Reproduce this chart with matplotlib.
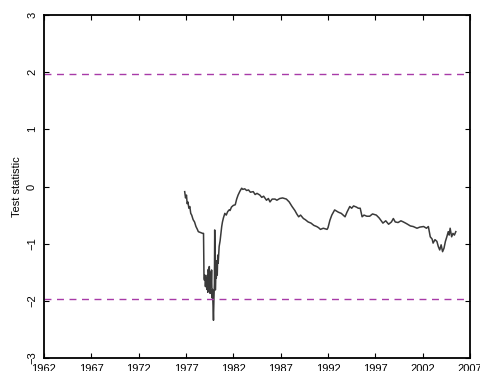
import matplotlib
matplotlib.use("Agg")
import matplotlib.pyplot as plt

# Test statistic series (year, value)
years = [1976.86, 1976.95, 1977.05, 1977.12, 1977.2, 1977.3, 1977.4, 1977.5, 1977.6, 1977.75,
         1977.9, 1978.05, 1978.2, 1978.3, 1978.45, 1978.6, 1978.76, 1978.85, 1978.9, 1978.95,
         1979.0, 1979.05, 1979.1, 1979.15, 1979.2, 1979.25, 1979.3, 1979.35, 1979.4, 1979.46,
         1979.5, 1979.55, 1979.6, 1979.65, 1979.7, 1979.75, 1979.8, 1979.85, 1979.9, 1979.95,
         1980.0, 1980.03, 1980.06, 1980.1, 1980.15, 1980.2, 1980.25, 1980.3, 1980.35, 1980.4,
         1980.5, 1980.6, 1980.7, 1980.77, 1980.85, 1980.95, 1981.1, 1981.25, 1981.4, 1981.55,
         1981.65, 1981.8, 1982.0, 1982.2, 1982.35, 1982.5, 1982.7, 1982.88, 1983.0, 1983.2,
         1983.4, 1983.6, 1983.8, 1984.1, 1984.3, 1984.5, 1984.8, 1985.0, 1985.2, 1985.5,
         1985.7, 1985.87, 1986.1, 1986.4, 1986.6, 1986.9, 1987.2, 1987.6, 1987.9, 1988.2,
         1988.5, 1988.7, 1988.9, 1989.1, 1989.4, 1989.6, 1989.9, 1990.2, 1990.5, 1990.8,
         1991.0, 1991.2, 1991.5, 1991.9, 1992.0, 1992.2, 1992.4, 1992.7, 1992.9, 1993.1,
         1993.4, 1993.6, 1993.8, 1994.0, 1994.3, 1994.5, 1994.7, 1995.0, 1995.2, 1995.4,
         1995.6, 1995.8, 1996.1, 1996.4, 1996.7, 1997.1, 1997.4, 1997.8, 1998.1, 1998.4,
         1998.7, 1998.9, 1999.1, 1999.4, 1999.7, 1999.96, 2000.3, 2000.7, 2001.0, 2001.4,
         2001.7, 2002.1, 2002.4, 2002.6, 2002.8, 2003.0, 2003.1, 2003.3, 2003.5, 2003.65,
         2003.8, 2003.95, 2004.1, 2004.25, 2004.4, 2004.55, 2004.7, 2004.8, 2004.9, 2005.06,
         2005.2, 2005.35, 2005.5]
stat = [-0.09, -0.20, -0.15, -0.30, -0.27, -0.38, -0.35, -0.47, -0.50, -0.58,
        -0.62, -0.70, -0.75, -0.79, -0.80, -0.81, -0.82, -0.82, -1.60, -1.64,
        -1.55, -1.75, -1.60, -1.72, -1.80, -1.55, -1.85, -1.45, -1.65, -1.40,
        -1.70, -1.87, -1.50, -1.75, -1.46, -1.95, -1.80, -2.10, -2.34, -1.95,
        -1.70, -0.76, -1.20, -1.81, -1.55, -1.60, -1.30, -1.55, -1.20, -1.34,
        -1.05, -0.95, -0.80, -0.70, -0.62, -0.55, -0.47, -0.50, -0.44, -0.41,
        -0.42, -0.36, -0.33, -0.32, -0.22, -0.15, -0.08, -0.03, -0.05, -0.04,
        -0.07, -0.06, -0.10, -0.09, -0.14, -0.12, -0.15, -0.19, -0.17, -0.24,
        -0.21, -0.27, -0.22, -0.22, -0.24, -0.21, -0.20, -0.22, -0.27, -0.35,
        -0.42, -0.48, -0.53, -0.50, -0.56, -0.58, -0.62, -0.64, -0.68, -0.70,
        -0.72, -0.75, -0.73, -0.75, -0.72, -0.59, -0.50, -0.41, -0.43, -0.45,
        -0.47, -0.50, -0.53, -0.45, -0.35, -0.38, -0.34, -0.36, -0.38, -0.38,
        -0.53, -0.50, -0.52, -0.52, -0.48, -0.50, -0.55, -0.64, -0.60, -0.66,
        -0.62, -0.56, -0.62, -0.63, -0.60, -0.62, -0.65, -0.69, -0.70, -0.73,
        -0.71, -0.70, -0.73, -0.70, -0.88, -0.92, -0.99, -0.93, -0.96, -1.05,
        -1.11, -1.02, -1.14, -1.08, -0.96, -0.88, -0.79, -0.85, -0.73, -0.88,
        -0.82, -0.85, -0.79]

crit = 1.96
xticks = [1962, 1967, 1972, 1977, 1982, 1987, 1992, 1997, 2002, 2007]
yticks = [-3, -2, -1, 0, 1, 2, 3]

plt.rcParams['font.family'] = ['Liberation Sans', 'DejaVu Sans']
fig = plt.figure(figsize=(4.8, 3.71), dpi=100)
ax = fig.add_axes([0.0917, 0.035, 0.8875, 0.9246])

ax.plot(years, stat, color='#3a3a3a', lw=1.1)
for c in (crit, -crit):
    ax.axhline(c, color='#a83aa8', lw=1.0, ls=(0, (5, 4)))

ax.set_xlim(1962, 2007)
ax.set_ylim(-3, 3)
ax.set_xticks(xticks)
ax.set_yticks(yticks)
ax.set_xticklabels([str(t) for t in xticks], fontsize=8)
ax.set_yticklabels([str(t).replace('-', '\u2212') for t in yticks], fontsize=8,
                   rotation=90, va='center')
ax.tick_params(direction='in', length=3.5, width=0.8, top=True, right=True)
ax.tick_params(axis='x', pad=4.5)
ax.tick_params(axis='y', pad=5)
for s in ax.spines.values():
    s.set_linewidth(1.3)
ax.set_ylabel('Test statistic', fontsize=8, labelpad=4)

fig.savefig('out.png', dpi=100)
